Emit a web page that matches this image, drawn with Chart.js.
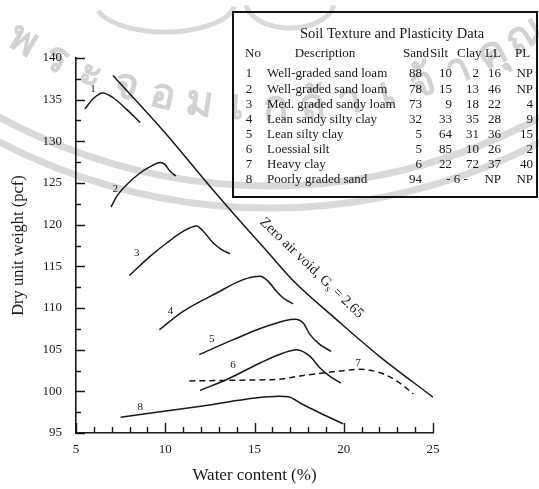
<!DOCTYPE html>
<html>
<head>
<meta charset="utf-8">
<script src="https://cdn.jsdelivr.net/npm/chart.js@4.4.0/dist/chart.umd.min.js"></script>
<style>
  html, body { margin: 0; padding: 0; background: #fff; }
  #wrap { width: 539px; height: 489px; position: relative; }
</style>
</head>
<body>
<div id="wrap"><canvas id="chart"></canvas></div>
<script>
// Compaction curves: [water content %, dry unit weight pcf]
const curve1 = [[5.5, 133.9], [6.0, 135.2], [6.5, 135.8], [7.1, 135.2], [7.85, 133.8], [8.6, 132.25]];
const curve2 = [[6.96, 122.1], [7.28, 123.4], [7.84, 124.8], [8.59, 126.2], [9.24, 127.05], [9.71, 127.45], [9.99, 127.2], [10.27, 126.4], [10.6, 125.85]];
const curve3 = [[7.99, 113.9], [9.15, 116.2], [10.08, 117.8], [11.0, 119.2], [11.76, 119.85], [12.13, 119.2], [12.69, 117.8], [13.16, 117.0], [13.63, 116.5]];
const curve4 = [[9.67, 107.4], [11.0, 109.6], [12.88, 111.8], [14.37, 113.4], [15.31, 113.8], [15.77, 113.2], [16.15, 112.2], [16.61, 111.2], [17.17, 110.5]];
const curve5 = [[11.9, 104.4], [13.81, 106.2], [15.68, 107.8], [17.27, 108.65], [17.73, 108.2], [18.11, 106.8], [18.67, 105.6], [19.29, 104.8]];
const curve6 = [[11.95, 100.1], [13.63, 101.6], [15.31, 103.4], [16.61, 104.6], [17.36, 105.0], [18.11, 104.2], [18.67, 102.8], [19.23, 101.8], [19.83, 101.0]];
const curve7 = [[11.35, 101.25], [13.0, 101.3], [14.75, 101.36], [16.4, 101.45], [17.55, 101.84], [18.85, 102.2], [20.35, 102.56], [20.9, 102.65], [22.0, 102.25], [23.0, 101.2], [23.9, 99.7]];
const curve8 = [[7.5, 96.9], [12.0, 98.2], [16.4, 99.4], [16.9, 99.35], [17.55, 98.6], [18.67, 97.4], [19.97, 96.1]];
const zeroAirVoid = [[7.07, 137.9], [10.0, 131.0], [12.5, 124.6], [14.2, 120.4], [15.7, 116.8], [17.2, 113.2], [19.6, 108.6], [22.0, 104.2], [25.0, 99.3]];

const curveNames = ['1', '2', '3', '4', '5', '6', '7', '8'];
const curveNamePos = [[5.95, 136.3], [7.2, 124.3], [8.4, 116.6], [10.3, 109.6], [12.6, 106.3], [13.8, 103.1], [20.8, 103.4], [8.6, 98.1]];
const zavLabelPos = [18.2, 114.8];

// axes
const xTickValues = [5, 10, 15, 20, 25];
const yTickValues = [95, 100, 105, 110, 115, 120, 125, 130, 135, 140];
const xMinorStep = 1;
const yMinorStep = 2.5;

// Soil texture and plasticity table
const tableNo = ['1', '2', '3', '4', '5', '6', '7', '8'];
const tableDesc = ['Well-graded sand loam', 'Well-graded sand loam', 'Med. graded sandy loam', 'Lean sandy silty clay',
                   'Lean silty clay', 'Loessial silt', 'Heavy clay', 'Poorly graded sand'];
const tableSand = ['88', '78', '73', '32', '5', '5', '6', '94'];
const tableSilt = ['10', '15', '9', '33', '64', '85', '22', ''];
const tableClay = ['2', '13', '18', '35', '31', '10', '72', ''];
const tableLL = ['16', '46', '22', '28', '36', '26', '37', 'NP'];
const tablePL = ['NP', 'NP', '4', '9', '15', '2', '40', 'NP'];

const INK = '#181818';
const SERIF = "'Liberation Serif', 'Times New Roman', serif";

function toPoints(arr) {
    return arr.map(p => ({ x: p[0], y: p[1] }));
}

// faint background watermark (seal + arcs)
const watermark = {
    id: 'watermark',
    beforeDraw(chart) {
        const ctx = chart.ctx;
        ctx.save();
        ctx.fillStyle = '#fff';
        ctx.fillRect(0, 0, chart.width, chart.height);
        ctx.strokeStyle = '#d9d9d9';
        ctx.lineWidth = 7;
        [566, 588].forEach(r => {
            ctx.beginPath();
            ctx.arc(270, -380, r, 0, Math.PI);
            ctx.stroke();
        });
        // ornament at the top of the seal
        ctx.lineWidth = 5;
        ctx.beginPath();
        ctx.ellipse(165, 2, 70, 30, 0, 0.15, Math.PI - 0.3);
        ctx.stroke();
        ctx.beginPath();
        ctx.ellipse(290, 0, 45, 28, 0, 0.2, Math.PI - 0.2);
        ctx.stroke();
        const chars = ['พ', 'ร', 'ะ', 'จ', 'อ', 'ม', 'เ', 'ก', 'ล้', 'า', 'เ', 'จ้', 'า', 'คุ', 'ณ'];
        ctx.fillStyle = '#d2d2d2';
        ctx.font = "bold 42px 'Noto Sans', sans-serif";
        ctx.textAlign = 'center';
        ctx.textBaseline = 'middle';
        const a0 = Math.PI / 2 + 0.53, a1 = Math.PI / 2 - 0.55;
        chars.forEach((c, i) => {
            const a = a0 + (a1 - a0) * i / (chars.length - 1);
            ctx.save();
            ctx.translate(270 + 488 * Math.cos(a), -380 + 488 * Math.sin(a));
            ctx.rotate(a - Math.PI / 2);
            ctx.fillText(c, 0, 0);
            ctx.restore();
        });
        ctx.restore();
    }
};

// inward major/minor tick marks
const axisTicks = {
    id: 'axisTicks',
    afterDraw(chart) {
        const { ctx, chartArea: area, scales: { x, y } } = chart;
        ctx.save();
        ctx.strokeStyle = INK;
        ctx.lineWidth = 1.4;
        ctx.beginPath();
        for (let v = y.min; v <= y.max + 1e-6; v += yMinorStep) {
            const py = Math.round(y.getPixelForValue(v)) + 0.5;
            const len = (v % 5 === 0) ? 9 : 5;
            ctx.moveTo(area.left, py);
            ctx.lineTo(area.left + len, py);
        }
        for (let v = x.min; v <= x.max + 1e-6; v += xMinorStep) {
            const px = Math.round(x.getPixelForValue(v)) + 0.5;
            const len = (v % 5 === 0) ? 10 : 6;
            ctx.moveTo(px, area.bottom);
            ctx.lineTo(px, area.bottom - len);
        }
        ctx.stroke();
        ctx.restore();
    }
};

// curve numbers, zero air void label and the data table
const annotations = {
    id: 'annotations',
    afterDraw(chart) {
        const { ctx, scales: { x, y } } = chart;
        ctx.save();
        ctx.fillStyle = INK;

        ctx.font = '11px ' + SERIF;
        ctx.textAlign = 'center';
        ctx.textBaseline = 'middle';
        curveNames.forEach((n, i) => {
            ctx.fillText(n, x.getPixelForValue(curveNamePos[i][0]), y.getPixelForValue(curveNamePos[i][1]));
        });

        // Zero air void, Gs = 2.65
        ctx.save();
        ctx.translate(x.getPixelForValue(zavLabelPos[0]), y.getPixelForValue(zavLabelPos[1]));
        ctx.rotate(44 * Math.PI / 180);
        const big = '14.5px ' + SERIF, small = '10px ' + SERIF;
        const p1 = 'Zero air void, G', p2 = 's', p3 = ' = 2.65';
        ctx.font = big;
        const w1 = ctx.measureText(p1).width, w3 = ctx.measureText(p3).width;
        ctx.font = small;
        const w2 = ctx.measureText(p2).width;
        let cx = -(w1 + w2 + w3) / 2;
        ctx.textAlign = 'left';
        ctx.textBaseline = 'middle';
        ctx.font = big;
        ctx.fillText(p1, cx, 0);
        cx += w1;
        ctx.font = small;
        ctx.fillText(p2, cx, 4);
        cx += w2;
        ctx.font = big;
        ctx.fillText(p3, cx, 0);
        ctx.restore();

        // table box
        ctx.strokeStyle = '#111';
        ctx.lineWidth = 2;
        ctx.strokeRect(233, 12, 304, 185);

        ctx.textBaseline = 'middle';
        ctx.font = '14.5px ' + SERIF;
        ctx.textAlign = 'center';
        ctx.fillText('Soil Texture and Plasticity Data', 392, 34);

        ctx.font = '13px ' + SERIF;
        ctx.textAlign = 'left';
        ctx.fillText('No', 245, 54);
        ctx.fillText('Sand', 403, 54);
        ctx.fillText('Silt', 430, 54);
        ctx.fillText('Clay', 457, 54);
        ctx.fillText('LL', 485, 54);
        ctx.fillText('PL', 515, 54);
        ctx.textAlign = 'center';
        ctx.fillText('Description', 325, 54);

        tableNo.forEach((no, i) => {
            const ry = 74 + i * 15.1;
            ctx.textAlign = 'center';
            ctx.fillText(no, 249, ry);
            ctx.textAlign = 'left';
            ctx.fillText(tableDesc[i], 267, ry);
            ctx.textAlign = 'right';
            ctx.fillText(tableSand[i], 422, ry);
            ctx.fillText(tableSilt[i], 452, ry);
            ctx.fillText(tableClay[i], 479, ry);
            ctx.fillText(tableLL[i], 501, ry);
            ctx.fillText(tablePL[i], 533, ry);
        });
        // silt + clay combined for row 8
        ctx.textAlign = 'center';
        ctx.fillText('- 6 -', 457, 74 + 7 * 15.1);
        ctx.restore();
    }
};

const solid = { borderColor: INK, borderWidth: 1.5, pointRadius: 0, fill: false, cubicInterpolationMode: 'monotone' };

new Chart(document.getElementById('chart'), {
    type: 'line',
    data: {
        datasets: [
            { ...solid, label: 'Zero air void', data: toPoints(zeroAirVoid) },
            { ...solid, label: '1', data: toPoints(curve1) },
            { ...solid, label: '2', data: toPoints(curve2) },
            { ...solid, label: '3', data: toPoints(curve3) },
            { ...solid, label: '4', data: toPoints(curve4) },
            { ...solid, label: '5', data: toPoints(curve5) },
            { ...solid, label: '6', data: toPoints(curve6) },
            { ...solid, label: '7', data: toPoints(curve7), borderDash: [6, 4] },
            { ...solid, label: '8', data: toPoints(curve8) }
        ]
    },
    options: {
        responsive: true,
        maintainAspectRatio: false,
        animation: false,
        layout: { padding: { top: 58, right: 106, left: 0, bottom: 0 } },
        plugins: {
            legend: { display: false },
            tooltip: { enabled: false }
        },
        scales: {
            x: {
                type: 'linear',
                min: 5,
                max: 25,
                grid: { display: false, drawTicks: false },
                border: { display: true, color: INK, width: 1.6 },
                ticks: { color: INK, padding: 9, font: { family: SERIF, size: 13 } },
                afterBuildTicks(scale) { scale.ticks = xTickValues.map(v => ({ value: v })); },
                afterFit(scale) { scale.height = 56; },
                title: {
                    display: true,
                    text: 'Water content (%)',
                    color: INK,
                    font: { family: SERIF, size: 17 },
                    padding: { top: 0, bottom: 3 }
                }
            },
            y: {
                type: 'linear',
                min: 95,
                max: 140,
                grid: { display: false, drawTicks: false },
                border: { display: true, color: INK, width: 1.6 },
                ticks: { color: INK, padding: 14, font: { family: SERIF, size: 13 } },
                afterBuildTicks(scale) { scale.ticks = yTickValues.map(v => ({ value: v })); },
                afterFit(scale) { scale.width = 76; },
                title: {
                    display: true,
                    text: 'Dry unit weight (pcf)',
                    color: INK,
                    font: { family: SERIF, size: 16.5 },
                    padding: { top: 9, bottom: 0 }
                }
            }
        }
    },
    plugins: [watermark, axisTicks, annotations]
});
</script>
</body>
</html>
